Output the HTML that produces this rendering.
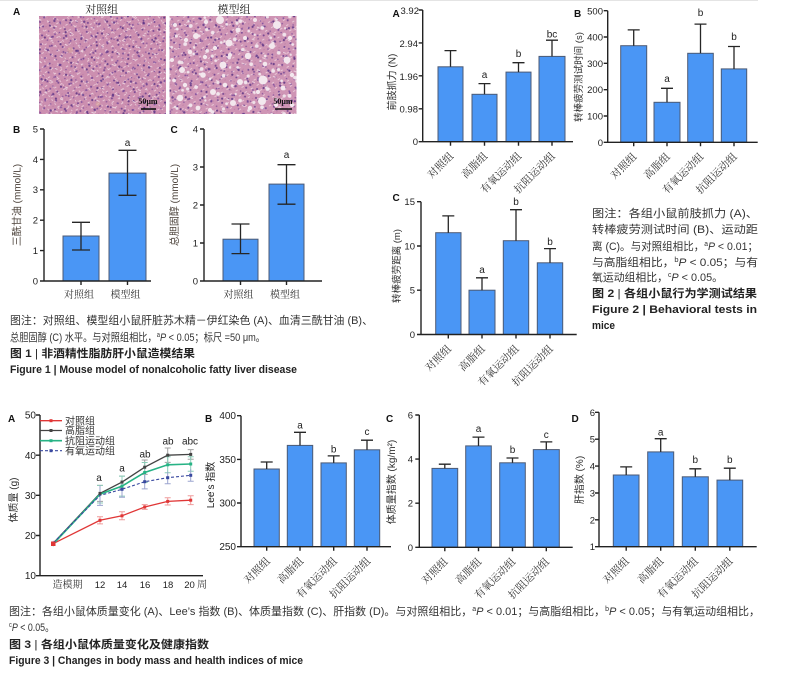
<!DOCTYPE html>
<html><head><meta charset="utf-8">
<style>
html,body{margin:0;padding:0;background:#fff;}
svg{display:block;}
text{font-family:"Liberation Sans","Noto Sans CJK SC",sans-serif;}
.sf{font-family:"Liberation Serif","Noto Serif CJK SC",serif;}
.ax{stroke:#222;stroke-width:1.4;fill:none;}
.bar{fill:#4a96f5;stroke:#4c5a74;stroke-width:1;}
.eb{stroke:#262626;stroke-width:1.3;fill:none;}
.tk{font-size:9.5px;fill:#222;text-anchor:end;}
.lt{font-size:10px;fill:#222;text-anchor:middle;}
.xl{font-size:10.5px;fill:#333;text-anchor:end;font-family:"Liberation Serif","Noto Serif CJK SC",serif;}
.xc{font-size:10px;fill:#333;text-anchor:middle;font-family:"Liberation Serif","Noto Serif CJK SC",serif;}
.yl{font-size:10px;fill:#2e2e2e;text-anchor:middle;font-family:"Liberation Sans","Noto Sans CJK SC",sans-serif;}
.yls{font-size:10px;fill:#4a4038;text-anchor:middle;}
.pl{font-size:10px;font-weight:bold;fill:#111;}
.cap{font-size:11px;fill:#333;}
.capb{font-size:11px;fill:#222;font-weight:bold;}
</style></head><body>
<svg width="803" height="676" viewBox="0 0 803 676" xmlns="http://www.w3.org/2000/svg">
<defs>
  <pattern id="nucA" width="11" height="9" patternUnits="userSpaceOnUse" patternTransform="rotate(7)">
    <circle cx="2" cy="3" r="1" fill="#6a3c8e" opacity=".85"/>
    <circle cx="8" cy="7" r="0.8" fill="#7a4898" opacity=".8"/>
  </pattern>
  <pattern id="nucB" width="17" height="13" patternUnits="userSpaceOnUse" patternTransform="rotate(23)">
    <circle cx="5" cy="4" r="1.1" fill="#5a3282" opacity=".85"/>
    <circle cx="13" cy="10" r="0.9" fill="#804f9e"/>
    <rect x="9" y="2" width="3" height="1" fill="#ead0de"/>
  </pattern>
  <pattern id="nucC" width="23" height="19" patternUnits="userSpaceOnUse" patternTransform="rotate(-38)">
    <circle cx="7" cy="12" r="1.2" fill="#5d3488" opacity=".8"/>
    <circle cx="18" cy="4" r="1" fill="#6f4394" opacity=".8"/>
  </pattern>
  <pattern id="speck" width="7" height="6" patternUnits="userSpaceOnUse" patternTransform="rotate(-31)">
    <rect x="1" y="1" width="2.5" height="1" fill="#efd3df" opacity=".8"/>
    <rect x="4" y="4" width="1.5" height="1" fill="#b7789e" opacity=".6"/>
  </pattern>
  <pattern id="speck2" width="5" height="9" patternUnits="userSpaceOnUse" patternTransform="rotate(52)">
    <rect x="0" y="2" width="2" height="1" fill="#f0d8e2" opacity=".7"/>
  </pattern>
  <pattern id="lipA" width="23" height="19" patternUnits="userSpaceOnUse" patternTransform="rotate(17)">
    <circle cx="6" cy="7" r="1.9" fill="#f1e4ec"/>
    <circle cx="17" cy="14" r="1.4" fill="#f1e4ec"/>
  </pattern>
  <pattern id="lipB" width="31" height="27" patternUnits="userSpaceOnUse" patternTransform="rotate(-12)">
    <circle cx="10" cy="18" r="1.6" fill="#eee0e8"/>
    <circle cx="25" cy="6" r="1.2" fill="#eee0e8"/>
  </pattern>
  <clipPath id="cl1"><rect x="39" y="16" width="127" height="98"/></clipPath>
  <clipPath id="cl2"><rect x="169.5" y="16" width="127" height="98"/></clipPath>
</defs>

<line x1="0" y1="0.5" x2="758" y2="0.5" stroke="#e4e4e4" stroke-width="1"/>

<!-- ============ FIGURE 1 ============ -->
<text class="pl" x="13" y="15">A</text>
<text class="sf" x="101.7" y="13" font-size="11" text-anchor="middle" fill="#222">对照组</text>
<text class="sf" x="234" y="13" font-size="11" text-anchor="middle" fill="#222">模型组</text>

<g clip-path="url(#cl1)">
  <rect x="39" y="16" width="127" height="98" fill="#cc8fb0"/>
  <rect x="39" y="16" width="127" height="98" fill="url(#speck)"/>
  <rect x="39" y="16" width="127" height="98" fill="url(#speck2)"/>
  <rect x="39" y="16" width="127" height="98" fill="url(#nucA)"/>
  <rect x="39" y="16" width="127" height="98" fill="url(#nucB)"/>
  <rect x="39" y="16" width="127" height="98" fill="url(#nucC)"/>
  <circle cx="70" cy="50" r="3" fill="#d9a99a" opacity=".5"/>
  <circle cx="98" cy="104" r="2.5" fill="#d9a99a" opacity=".5"/>
</g>
<g clip-path="url(#cl2)">
  <rect x="169.5" y="16" width="127" height="98" fill="#cf95b5"/>
  <rect x="169.5" y="16" width="127" height="98" fill="url(#speck)"/>
  <rect x="169.5" y="16" width="127" height="98" fill="url(#nucA)"/>
  <rect x="169.5" y="16" width="127" height="98" fill="url(#nucB)"/>
  <rect x="169.5" y="16" width="127" height="98" fill="url(#nucC)"/>
  <rect x="169.5" y="16" width="127" height="98" fill="url(#lipA)"/>
  <rect x="169.5" y="16" width="127" height="98" fill="url(#lipB)"/>
  <g fill="#f3e8ee">
    <circle cx="220" cy="20" r="4"/><circle cx="229" cy="43" r="3.5"/><circle cx="277" cy="25" r="4"/>
    <circle cx="263" cy="80" r="4.5"/><circle cx="223" cy="65" r="3.5"/><circle cx="182" cy="70" r="3"/>
    <circle cx="213" cy="92" r="3"/><circle cx="262" cy="101" r="4"/><circle cx="233" cy="103" r="3"/>
    <circle cx="196" cy="36" r="3"/><circle cx="248" cy="56" r="3.2"/><circle cx="287" cy="60" r="3.5"/>
    <circle cx="180" cy="98" r="3.2"/><circle cx="203" cy="75" r="2.8"/><circle cx="240" cy="82" r="3"/>
    <circle cx="272" cy="46" r="3"/>
    <circle cx="175" cy="25" r="2"/><circle cx="190" cy="52" r="2.3"/><circle cx="206" cy="22" r="2.2"/>
    <circle cx="238" cy="30" r="2.5"/><circle cx="255" cy="20" r="2"/><circle cx="290" cy="38" r="2.2"/>
    <circle cx="283" cy="88" r="2.4"/><circle cx="250" cy="108" r="2.2"/><circle cx="198" cy="108" r="2.4"/>
    <circle cx="215" cy="48" r="2.1"/><circle cx="230" cy="55" r="2"/><circle cx="265" cy="64" r="2.3"/>
    <circle cx="185" cy="85" r="2.2"/><circle cx="292" cy="105" r="2.1"/><circle cx="245" cy="38" r="2"/>
    <circle cx="205" cy="57" r="2.2"/><circle cx="225" cy="85" r="2.3"/><circle cx="276" cy="105" r="2"/>
    <circle cx="258" cy="92" r="2.1"/><circle cx="186" cy="40" r="2.2"/><circle cx="292" cy="75" r="2.2"/>
    <circle cx="210" cy="110" r="2"/><circle cx="172" cy="60" r="2"/>
  </g>
</g>
<text class="sf" x="148" y="104" font-size="8" font-weight="bold" text-anchor="middle" fill="#111">50μm</text>
<line x1="141" y1="109" x2="156" y2="109" stroke="#111" stroke-width="1.6"/>
<text class="sf" x="283" y="104" font-size="8" font-weight="bold" text-anchor="middle" fill="#111">50μm</text>
<line x1="275" y1="109" x2="292" y2="109" stroke="#111" stroke-width="1.6"/>

<!-- Fig1 B -->
<text class="pl" x="13" y="133">B</text>
<text class="yls" transform="translate(20.5,205) rotate(-90)">三酰甘油 (mmol/L)</text>
<rect class="bar" x="63" y="236" width="36" height="45"/>
<rect class="bar" x="109" y="173.1" width="37" height="107.9"/>
<path class="eb" d="M81,222.3V250M72,222.3H90M72,250H90"/>
<path class="eb" d="M127.5,150.3V195.3M118.5,150.3H136.5M118.5,195.3H136.5"/>
<path class="ax" d="M44,129V281H151M40,281H44M40,250.6H44M40,220.2H44M40,189.8H44M40,159.4H44M40,129H44M81,281V285M127.5,281V285"/>
<g class="tk"><text x="38" y="284.5">0</text><text x="38" y="254">1</text><text x="38" y="223.5">2</text><text x="38" y="193">3</text><text x="38" y="163">4</text><text x="38" y="132.5">5</text></g>
<text class="lt" x="127.5" y="146">a</text>
<text class="xc" x="79" y="298">对照组</text>
<text class="xc" x="125.5" y="298">模型组</text>

<!-- Fig1 C -->
<text class="pl" x="170.5" y="133">C</text>
<text class="yls" transform="translate(178,205) rotate(-90)">总胆固醇 (mmol/L)</text>
<rect class="bar" x="223" y="239.2" width="35" height="41.8"/>
<rect class="bar" x="269" y="184.1" width="35" height="96.9"/>
<path class="eb" d="M240.5,224V253.6M231.5,224H249.5M231.5,253.6H249.5"/>
<path class="eb" d="M286.5,164.7V204.2M277.5,164.7H295.5M277.5,204.2H295.5"/>
<path class="ax" d="M204,129V281H322M200,281H204M200,243H204M200,205H204M200,167H204M200,129H204M240.5,281V285M286.5,281V285"/>
<g class="tk"><text x="198" y="284.5">0</text><text x="198" y="246.5">1</text><text x="198" y="208.5">2</text><text x="198" y="170.5">3</text><text x="198" y="132.5">4</text></g>
<text class="lt" x="286.5" y="158">a</text>
<text class="xc" x="238.5" y="298">对照组</text>
<text class="xc" x="285" y="298">模型组</text>

<!-- Fig1 caption -->
<text class="cap" x="10" y="324" textLength="363" lengthAdjust="spacingAndGlyphs">图注：对照组、模型组小鼠肝脏苏木精－伊红染色 (A)、血清三酰甘油 (B)、</text>
<text class="cap" x="10" y="341" textLength="255" lengthAdjust="spacingAndGlyphs">总胆固醇 (C) 水平。与对照组相比，<tspan font-size="7" dy="-4">a</tspan><tspan dy="4" font-style="italic">P</tspan> &lt; 0.05；标尺 =50 μm。</text>
<text class="capb" x="10" y="357" textLength="185" lengthAdjust="spacingAndGlyphs">图 1 <tspan font-weight="normal">|</tspan> 非酒精性脂肪肝小鼠造模结果</text>
<text class="capb" x="10" y="373" textLength="287" lengthAdjust="spacingAndGlyphs">Figure 1  |  Mouse model of nonalcoholic fatty liver disease</text>

<!-- ============ FIGURE 2 ============ -->
<!-- A -->
<text class="pl" x="392.5" y="17">A</text>
<text class="yl" transform="translate(395.5,82) rotate(-90)">前肢抓力 (N)</text>
<rect class="bar" x="438" y="66.8" width="25" height="74.9"/>
<rect class="bar" x="472" y="94.3" width="25" height="47.4"/>
<rect class="bar" x="506" y="72.1" width="25" height="69.6"/>
<rect class="bar" x="539" y="56.4" width="26" height="85.3"/>
<path class="eb" d="M450.5,66.8V50.6M444.5,50.6H456.5M484.5,94.3V83.6M478.5,83.6H490.5M518.5,72.1V62.7M512.5,62.7H524.5M552,56.4V40.2M546,40.2H558"/>
<path class="ax" d="M422.7,10V141.7H573M418.7,141.7H422.7M418.7,108.8H422.7M418.7,75.8H422.7M418.7,42.9H422.7M418.7,10H422.7M450.5,141.7V145.7M484.5,141.7V145.7M518.5,141.7V145.7M552,141.7V145.7"/>
<g class="tk"><text x="419" y="14">3.92</text><text x="418" y="47">2.94</text><text x="418" y="80">1.96</text><text x="418" y="112.5">0.98</text><text x="418" y="145">0</text></g>
<text class="lt" x="484.5" y="78">a</text>
<text class="lt" x="518.5" y="57">b</text>
<text class="lt" x="552" y="37.5">bc</text>
<text class="xl" transform="translate(454,156.7) rotate(-45)">对照组</text>
<text class="xl" transform="translate(488,156.7) rotate(-45)">高脂组</text>
<text class="xl" transform="translate(522,156.7) rotate(-45)">有氧运动组</text>
<text class="xl" transform="translate(555.5,156.7) rotate(-45)">抗阻运动组</text>

<!-- B -->
<text class="pl" x="574" y="17">B</text>
<text class="yl" style="font-size:9.5px" transform="translate(582,77) rotate(-90)">转棒疲劳测试时间 (s)</text>
<rect class="bar" x="620.7" y="45.7" width="26" height="96.6"/>
<rect class="bar" x="654" y="102.3" width="26" height="40"/>
<rect class="bar" x="687.7" y="53.3" width="25.6" height="89"/>
<rect class="bar" x="721.3" y="68.9" width="25.4" height="73.4"/>
<path class="eb" d="M633.7,45.7V29.9M627.7,29.9H639.7M667,102.3V88.3M661,88.3H673M700.5,53.3V24.1M694.5,24.1H706.5M734,68.9V46.5M728,46.5H740"/>
<path class="ax" d="M607.7,10.7V142.3H757.7M603.7,142.3H607.7M603.7,116H607.7M603.7,89.7H607.7M603.7,63.3H607.7M603.7,37H607.7M603.7,10.7H607.7M633.7,142.3V146.3M667,142.3V146.3M700.5,142.3V146.3M734,142.3V146.3"/>
<g class="tk"><text x="603" y="146">0</text><text x="603" y="119.5">100</text><text x="603" y="93">200</text><text x="603" y="67">300</text><text x="603" y="40.5">400</text><text x="603" y="14.5">500</text></g>
<text class="lt" x="667" y="82">a</text>
<text class="lt" x="700.5" y="16">b</text>
<text class="lt" x="734" y="40">b</text>
<text class="xl" transform="translate(637.2,157.3) rotate(-45)">对照组</text>
<text class="xl" transform="translate(670.5,157.3) rotate(-45)">高脂组</text>
<text class="xl" transform="translate(704,157.3) rotate(-45)">有氧运动组</text>
<text class="xl" transform="translate(737.5,157.3) rotate(-45)">抗阻运动组</text>

<!-- C -->
<text class="pl" x="392.5" y="201">C</text>
<text class="yl" style="font-size:9.5px" transform="translate(400,266) rotate(-90)">转棒疲劳距离 (m)</text>
<rect class="bar" x="435.7" y="232.7" width="25.3" height="101.8"/>
<rect class="bar" x="469" y="290.2" width="26" height="44.3"/>
<rect class="bar" x="503.3" y="240.7" width="25.4" height="93.8"/>
<rect class="bar" x="537.3" y="262.8" width="25.4" height="71.7"/>
<path class="eb" d="M448.3,232.7V215.9M442.3,215.9H454.3M482,290.2V277.8M476,277.8H488M516,240.7V209.7M510,209.7H522M550,262.8V248.6M544,248.6H556"/>
<path class="ax" d="M421,201.7V334.5H576.7M417,334.5H421M417,290.2H421M417,246H421M417,201.7H421M448.3,334.5V338.5M482,334.5V338.5M516,334.5V338.5M550,334.5V338.5"/>
<g class="tk"><text x="415" y="338">0</text><text x="415" y="293.7">5</text><text x="415" y="249.5">10</text><text x="415" y="205.2">15</text></g>
<text class="lt" x="482" y="273">a</text>
<text class="lt" x="516" y="205">b</text>
<text class="lt" x="550" y="245">b</text>
<text class="xl" transform="translate(451.8,349.5) rotate(-45)">对照组</text>
<text class="xl" transform="translate(485.5,349.5) rotate(-45)">高脂组</text>
<text class="xl" transform="translate(519.5,349.5) rotate(-45)">有氧运动组</text>
<text class="xl" transform="translate(553.5,349.5) rotate(-45)">抗阻运动组</text>

<!-- Fig2 caption -->
<text class="cap" x="592" y="217" textLength="166" lengthAdjust="spacingAndGlyphs">图注：各组小鼠前肢抓力 (A)、</text>
<text class="cap" x="592" y="233" textLength="166" lengthAdjust="spacingAndGlyphs">转棒疲劳测试时间 (B)、运动距</text>
<text class="cap" x="592" y="250" textLength="166" lengthAdjust="spacingAndGlyphs">离 (C)。与对照组相比，<tspan font-size="7" dy="-4">a</tspan><tspan dy="4" font-style="italic">P</tspan> &lt; 0.01；</text>
<text class="cap" x="592" y="266" textLength="166" lengthAdjust="spacingAndGlyphs">与高脂组相比，<tspan font-size="7" dy="-4">b</tspan><tspan dy="4" font-style="italic">P</tspan> &lt; 0.05；与有</text>
<text class="cap" x="592" y="281" textLength="131" lengthAdjust="spacingAndGlyphs">氧运动组相比，<tspan font-size="7" dy="-4">c</tspan><tspan dy="4" font-style="italic">P</tspan> &lt; 0.05。</text>
<text class="capb" x="592" y="297" textLength="165" lengthAdjust="spacingAndGlyphs">图 2 <tspan font-weight="normal">|</tspan> 各组小鼠行为学测试结果</text>
<text class="capb" x="592" y="313" textLength="165" lengthAdjust="spacingAndGlyphs">Figure 2  |  Behavioral tests in</text>
<text class="capb" x="592" y="329" textLength="23" lengthAdjust="spacingAndGlyphs">mice</text>

<!-- ============ FIGURE 3 ============ -->
<!-- A line chart -->
<text class="pl" x="8" y="422">A</text>
<text class="yl" transform="translate(17,500) rotate(-90)">体质量 (g)</text>
<path class="ax" d="M40,415V575.7H203M36,575.7H40M36,535.5H40M36,495.3H40M36,455.2H40M36,415H40"/>
<g class="tk" style="font-size:10px"><text x="36" y="579">10</text><text x="36" y="539">20</text><text x="36" y="499">30</text><text x="36" y="459">40</text><text x="36" y="418.5">50</text></g>
<text class="xc" x="67.5" y="588">造模期</text>
<g class="lt" style="font-size:9.5px"><text x="100" y="588">12</text><text x="122" y="588">14</text><text x="145" y="588">16</text><text x="168" y="588">18</text><text x="189.5" y="588">20</text></g>
<text class="sf" x="197" y="588" font-size="10" fill="#333">周</text>

<!-- error bars -->
<g stroke-width="1" fill="none" opacity="0.55">
  <path stroke="#e24a4a" d="M53.3,541.2V546M100,516.7V523.9M122,511.8V519.8M144.7,504.6V509.4M167.7,497.8V505M190.7,495.8V504.6M97,516.7H103M97,523.9H103M119,511.8H125M119,519.8H125M141.7,504.6H147.7M141.7,509.4H147.7M164.7,497.8H170.7M164.7,505H170.7M187.7,495.8H193.7M187.7,504.6H193.7"/>
  <path stroke="#555" d="M53.3,541.2V545.2M100,485.4V501.4M122,476.1V488.1M144.7,460V474.4M167.7,448V462.4M190.7,449.6V459.2M97,485.4H103M97,501.4H103M119,476.1H125M119,488.1H125M141.7,460H147.7M141.7,474.4H147.7M164.7,448H170.7M164.7,462.4H170.7M187.7,449.6H193.7M187.7,459.2H193.7"/>
  <path stroke="#2fa57f" d="M53.3,541.6V546.4M100,485.4V503M122,476.1V496.1M144.7,462.5V482.5M167.7,456.8V472.8M190.7,456.8V471.2M97,485.4H103M97,503H103M119,476.1H125M119,496.1H125M141.7,462.5H147.7M141.7,482.5H147.7M164.7,456.8H170.7M164.7,472.8H170.7M187.7,456.8H193.7M187.7,471.2H193.7"/>
  <path stroke="#4a5aa8" d="M53.3,540.8V544.8M100,485.4V505.4M122,481.3V497.3M144.7,474.5V488.9M167.7,471.7V483.7M190.7,469.3V481.3M97,505.4H103M119,497.3H125M141.7,488.9H147.7M164.7,483.7H170.7M187.7,481.3H193.7"/>
</g>
<!-- lines -->
<polyline fill="none" stroke="#e03636" stroke-width="1.3" points="53.3,543.6 100,520.3 122,515.8 144.7,507 167.7,501.4 190.7,500.2"/>
<polyline fill="none" stroke="#444" stroke-width="1.3" points="53.3,543.2 100,493.4 122,482.1 144.7,467.2 167.7,455.2 190.7,454.4"/>
<polyline fill="none" stroke="#27b385" stroke-width="1.6" points="53.3,544 100,494.2 122,486.1 144.7,472.5 167.7,464.8 190.7,464"/>
<polyline fill="none" stroke="#3a4aa0" stroke-width="1.1" stroke-dasharray="3,2" points="53.3,542.8 100,495.4 122,489.3 144.7,481.7 167.7,477.7 190.7,475.3"/>
<!-- markers -->
<g fill="#e03636"><rect x="51.8" y="542.1" width="3" height="3"/><rect x="98.5" y="518.8" width="3" height="3"/><rect x="120.5" y="514.3" width="3" height="3"/><rect x="143.2" y="505.5" width="3" height="3"/><rect x="166.2" y="499.9" width="3" height="3"/><rect x="189.2" y="498.7" width="3" height="3"/></g>
<g fill="#444"><rect x="98.5" y="491.9" width="3" height="3"/><rect x="120.5" y="480.6" width="3" height="3"/><rect x="143.2" y="465.7" width="3" height="3"/><rect x="166.2" y="453.7" width="3" height="3"/><rect x="189.2" y="452.9" width="3" height="3"/></g>
<g fill="#27b385"><rect x="120.5" y="484.6" width="3" height="3"/><rect x="143.2" y="471" width="3" height="3"/><rect x="166.2" y="463.3" width="3" height="3"/><rect x="189.2" y="462.5" width="3" height="3"/></g>
<g fill="#3a4aa0"><rect x="120.5" y="487.8" width="3" height="3"/><rect x="143.2" y="480.2" width="3" height="3"/><rect x="166.2" y="476.2" width="3" height="3"/><rect x="189.2" y="473.8" width="3" height="3"/></g>
<rect x="51" y="541.5" width="4.5" height="4.5" fill="#e03636"/>
<!-- legend -->
<line x1="40" y1="420.7" x2="62" y2="420.7" stroke="#e03636" stroke-width="1.3"/><rect x="49.5" y="419.2" width="3" height="3" fill="#e03636"/>
<line x1="40" y1="430.5" x2="62" y2="430.5" stroke="#444" stroke-width="1.3"/><rect x="49.5" y="429" width="3" height="3" fill="#444"/>
<line x1="40" y1="440.7" x2="62" y2="440.7" stroke="#27b385" stroke-width="1.6"/><rect x="49.5" y="439.2" width="3" height="3" fill="#27b385"/>
<line x1="40" y1="450.7" x2="62" y2="450.7" stroke="#3a4aa0" stroke-width="1.1" stroke-dasharray="3,2"/><rect x="49.5" y="449.2" width="3" height="3" fill="#3a4aa0"/>
<g class="sf" font-size="10" fill="#333"><text x="65" y="424.3">对照组</text><text x="65" y="434">高脂组</text><text x="65" y="444.3">抗阻运动组</text><text x="65" y="454.3">有氧运动组</text></g>
<g class="lt"><text x="99" y="481">a</text><text x="122" y="471.5">a</text><text x="145" y="457.5">ab</text><text x="168" y="444.5">ab</text><text x="190" y="444.5">abc</text></g>

<!-- B Lee's -->
<text class="pl" x="205" y="422">B</text>
<text class="yls" style="fill:#222;font-size:10px" transform="translate(214,485) rotate(-90)">Lee’s 指数</text>
<rect class="bar" x="254" y="469" width="25.3" height="77.7"/>
<rect class="bar" x="287.3" y="445.4" width="25.4" height="101.3"/>
<rect class="bar" x="321" y="462.9" width="25.3" height="83.8"/>
<rect class="bar" x="354.3" y="449.8" width="25.4" height="96.9"/>
<path class="eb" d="M266.7,469V462M260.7,462H272.7M300,445.4V432.3M294,432.3H306M333.7,462.9V455.9M327.7,455.9H339.7M367,449.8V440.2M361,440.2H373"/>
<path class="ax" d="M241,415.7V546.7H391M237,546.7H241M237,503H241M237,459.4H241M237,415.7H241M266.7,546.7V550.7M300,546.7V550.7M333.7,546.7V550.7M367,546.7V550.7"/>
<g class="tk" style="font-size:10px"><text x="236" y="550.2">250</text><text x="236" y="506.5">300</text><text x="236" y="463">350</text><text x="236" y="419.2">400</text></g>
<text class="lt" x="300" y="428.5">a</text>
<text class="lt" x="333.7" y="452.5">b</text>
<text class="lt" x="367" y="435">c</text>
<text class="xl" transform="translate(270.7,561.7) rotate(-45)">对照组</text>
<text class="xl" transform="translate(304,561.7) rotate(-45)">高脂组</text>
<text class="xl" transform="translate(337.7,561.7) rotate(-45)">有氧运动组</text>
<text class="xl" transform="translate(371,561.7) rotate(-45)">抗阻运动组</text>

<!-- C BMI -->
<text class="pl" x="386" y="422">C</text>
<text class="yl" transform="translate(395,482) rotate(-90)">体质量指数 (kg/m²)</text>
<rect class="bar" x="432" y="468.4" width="25.7" height="78.9"/>
<rect class="bar" x="465.7" y="445.9" width="25.6" height="101.4"/>
<rect class="bar" x="499.7" y="462.8" width="25.6" height="84.5"/>
<rect class="bar" x="533.3" y="449.6" width="26" height="97.7"/>
<path class="eb" d="M444.8,468.4V464.2M438.8,464.2H450.8M478.5,445.9V437.1M472.5,437.1H484.5M512.5,462.8V458M506.5,458H518.5M546.3,449.6V441.9M540.3,441.9H552.3"/>
<path class="ax" d="M419.3,415V547.3H572.7M415.3,547.3H419.3M415.3,503.2H419.3M415.3,459.1H419.3M415.3,415H419.3M444.8,547.3V551.3M478.5,547.3V551.3M512.5,547.3V551.3M546.3,547.3V551.3"/>
<g class="tk"><text x="413" y="550.8">0</text><text x="413" y="506.7">2</text><text x="413" y="462.6">4</text><text x="413" y="418.5">6</text></g>
<text class="lt" x="478.5" y="432">a</text>
<text class="lt" x="512.5" y="453">b</text>
<text class="lt" x="546.3" y="438">c</text>
<text class="xl" transform="translate(448.3,562.3) rotate(-45)">对照组</text>
<text class="xl" transform="translate(482,562.3) rotate(-45)">高脂组</text>
<text class="xl" transform="translate(516,562.3) rotate(-45)">有氧运动组</text>
<text class="xl" transform="translate(549.8,562.3) rotate(-45)">抗阻运动组</text>

<!-- D liver index -->
<text class="pl" x="571.5" y="422">D</text>
<text class="yl" transform="translate(583,480) rotate(-90)">肝指数 (%)</text>
<rect class="bar" x="613.3" y="475" width="25.7" height="71.7"/>
<rect class="bar" x="647.7" y="451.9" width="26" height="94.8"/>
<rect class="bar" x="682.3" y="476.8" width="26" height="69.9"/>
<rect class="bar" x="717" y="480.1" width="25.7" height="66.6"/>
<path class="eb" d="M626.2,475V466.9M620.2,466.9H632.2M660.7,451.9V438.7M654.7,438.7H666.7M695.3,476.8V468.8M689.3,468.8H701.3M729.8,480.1V468.2M723.8,468.2H735.8"/>
<path class="ax" d="M599,412.3V546.7H756.7M595,546.7H599M595,519.8H599M595,493H599M595,466.1H599M595,439.2H599M595,412.3H599M626.2,546.7V550.7M660.7,546.7V550.7M695.3,546.7V550.7M729.8,546.7V550.7"/>
<g class="tk"><text x="595" y="550.2">1</text><text x="595" y="523.3">2</text><text x="595" y="496.5">3</text><text x="595" y="469.6">4</text><text x="595" y="442.7">5</text><text x="595" y="415.8">6</text></g>
<text class="lt" x="660.7" y="435.5">a</text>
<text class="lt" x="695.3" y="463">b</text>
<text class="lt" x="729.8" y="463">b</text>
<text class="xl" transform="translate(629.7,561.7) rotate(-45)">对照组</text>
<text class="xl" transform="translate(664.2,561.7) rotate(-45)">高脂组</text>
<text class="xl" transform="translate(698.8,561.7) rotate(-45)">有氧运动组</text>
<text class="xl" transform="translate(733.3,561.7) rotate(-45)">抗阻运动组</text>

<!-- Fig3 caption -->
<text class="cap" x="9" y="615" textLength="751" lengthAdjust="spacingAndGlyphs">图注：各组小鼠体质量变化 (A)、Lee’s 指数 (B)、体质量指数 (C)、肝指数 (D)。与对照组相比，<tspan font-size="7" dy="-4">a</tspan><tspan dy="4" font-style="italic">P</tspan> &lt; 0.01；与高脂组相比，<tspan font-size="7" dy="-4">b</tspan><tspan dy="4" font-style="italic">P</tspan> &lt; 0.05；与有氧运动组相比，</text>
<text class="cap" x="9" y="631" textLength="45" lengthAdjust="spacingAndGlyphs"><tspan font-size="7" dy="-4">c</tspan><tspan dy="4" font-style="italic">P</tspan> &lt; 0.05。</text>
<text class="capb" x="9" y="648" textLength="200" lengthAdjust="spacingAndGlyphs">图 3 <tspan font-weight="normal">|</tspan> 各组小鼠体质量变化及健康指数</text>
<text class="capb" x="9" y="664" textLength="294" lengthAdjust="spacingAndGlyphs">Figure 3  |  Changes in body mass and health indices of mice</text>
</svg>
</body></html>
